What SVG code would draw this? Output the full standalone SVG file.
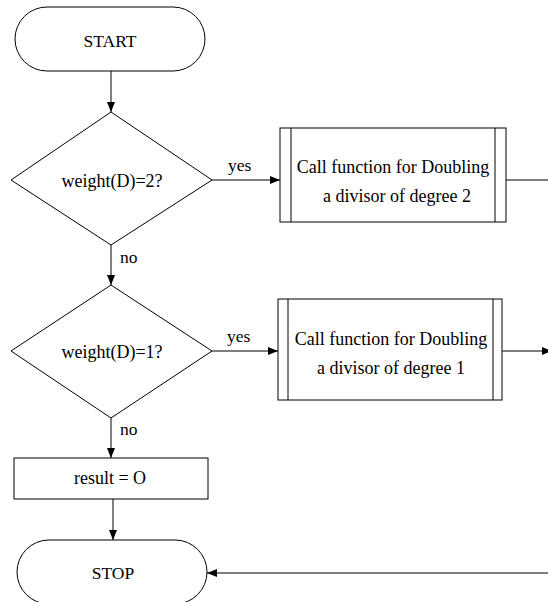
<svg xmlns="http://www.w3.org/2000/svg" width="548" height="602" viewBox="0 0 548 602">
  <style>
    .shape { fill: #ffffff; stroke: #000000; stroke-width: 1; }
    .edge { fill: none; stroke: #000000; stroke-width: 1; }
    .label { font-family: "Liberation Serif", "Times New Roman", serif; font-size: 17.5px; fill: #000000; }
    .big { font-size: 18px; }
    .mid { text-anchor: middle; }
  </style>
  <defs>
    <marker id="arrow" viewBox="0 0 10 8" refX="10" refY="4" markerWidth="10" markerHeight="8" markerUnits="userSpaceOnUse" orient="auto">
      <path d="M0,0 L10,4 L0,8 Z" fill="#000000"/>
    </marker>
  </defs>
  <rect width="548" height="602" fill="#ffffff"/>

  <g id="connectors">
    <line class="edge" x1="111" y1="71" x2="111" y2="112" marker-end="url(#arrow)"/>
    <line class="edge" x1="212" y1="180" x2="280" y2="180" marker-end="url(#arrow)"/>
    <line class="edge" x1="506" y1="180" x2="548" y2="180"/>
    <line class="edge" x1="111" y1="245" x2="111" y2="285" marker-end="url(#arrow)"/>
    <line class="edge" x1="212" y1="351" x2="278" y2="351" marker-end="url(#arrow)"/>
    <line class="edge" x1="502" y1="351" x2="552" y2="351" marker-end="url(#arrow)"/>
    <line class="edge" x1="111" y1="418" x2="111" y2="458" marker-end="url(#arrow)"/>
    <line class="edge" x1="113" y1="499" x2="113" y2="540" marker-end="url(#arrow)"/>
    <line class="edge" x1="548" y1="573" x2="207" y2="573" marker-end="url(#arrow)"/>
    <text class="label" x="228" y="171">yes</text>
    <text class="label" x="120" y="263">no</text>
    <text class="label" x="227" y="342">yes</text>
    <text class="label" x="120" y="435">no</text>
  </g>

  <g id="start">
    <rect class="shape" x="15" y="7" width="190" height="64" rx="32" ry="32"/>
    <text class="label mid" x="110" y="47">START</text>
  </g>

  <g id="decision-weight-2">
    <polygon class="shape" points="111,112 212,180 111,245 11,180"/>
    <text class="label big mid" x="112" y="187">weight(D)=2?</text>
  </g>

  <g id="double-degree-2">
    <rect class="shape" x="280" y="128" width="226" height="94"/>
    <line class="edge" x1="291" y1="128" x2="291" y2="222"/>
    <line class="edge" x1="495" y1="128" x2="495" y2="222"/>
    <text class="label big mid" x="393" y="173">Call function for Doubling</text>
    <text class="label big mid" x="397" y="202">a divisor of degree 2</text>
  </g>

  <g id="decision-weight-1">
    <polygon class="shape" points="111,285 212,351 111,418 11,351"/>
    <text class="label big mid" x="112" y="358">weight(D)=1?</text>
  </g>

  <g id="double-degree-1">
    <rect class="shape" x="278" y="299" width="224" height="101"/>
    <line class="edge" x1="288" y1="299" x2="288" y2="400"/>
    <line class="edge" x1="493" y1="299" x2="493" y2="400"/>
    <text class="label big mid" x="391" y="345">Call function for Doubling</text>
    <text class="label big mid" x="391" y="374">a divisor of degree 1</text>
  </g>

  <g id="result">
    <rect class="shape" x="14" y="458" width="194" height="41"/>
    <text class="label big mid" x="110" y="484">result = O</text>
  </g>

  <g id="stop">
    <rect class="shape" x="17" y="540" width="190" height="64" rx="32" ry="32"/>
    <text class="label mid" x="113" y="579">STOP</text>
  </g>
</svg>
